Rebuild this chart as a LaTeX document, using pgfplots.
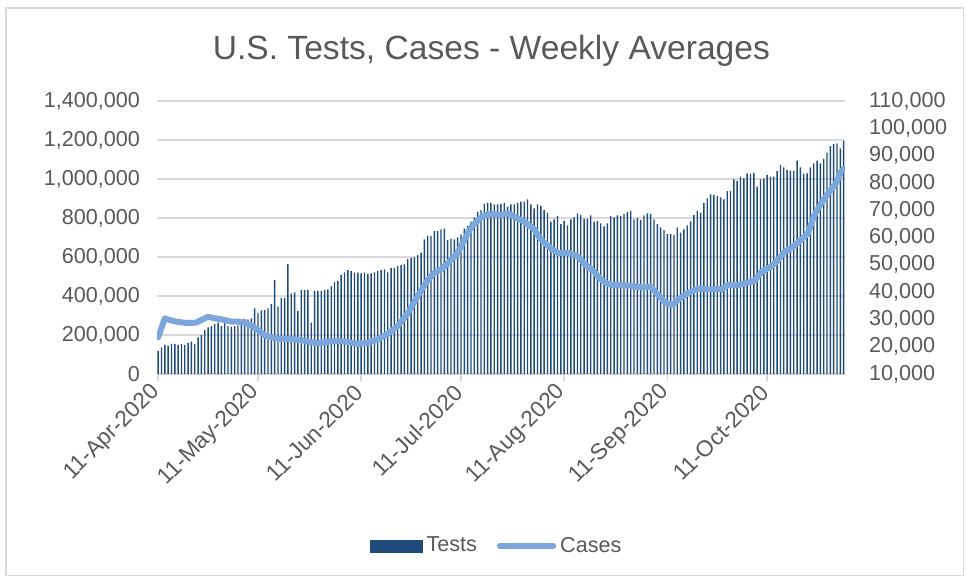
\documentclass[border=0pt]{standalone}
\usepackage{fontspec}
\setmainfont{Liberation Sans}
\usepackage{xcolor}
\usepackage{pgfplots}
\pgfplotsset{compat=1.18}
\definecolor{tblue}{RGB}{30,74,124}
\definecolor{cblue}{RGB}{124,167,220}
\definecolor{gridg}{RGB}{217,217,217}
\definecolor{txt}{RGB}{89,89,89}
\newcommand{\tickfont}{\fontsize{10.8}{12}\selectfont}
\newcommand{\datefont}{\fontsize{11.3}{12}\selectfont}

\begin{document}
\begin{tikzpicture}
\path[use as bounding box] (-78.5pt,-102.5pt) rectangle (405pt,187pt);
\draw[gridg, line width=0.6pt] (-75.5pt,-100.75pt) rectangle (403.25pt,183pt);

% tests, left axis
\begin{axis}[
  scale only axis, width=344pt, height=136.5pt,
  xmin=-0.35, xmax=206.4, ymin=0, ymax=1400000,
  axis x line*=bottom, axis y line*=left,
  x axis line style={draw=gridg, line width=0.8pt},
  y axis line style={draw=none},
  xtick={0,30,61,91,122,153,183},
  xticklabels={11-Apr-2020,11-May-2020,11-Jun-2020,11-Jul-2020,11-Aug-2020,11-Sep-2020,11-Oct-2020},
  xticklabel style={rotate=45, anchor=east, font=\datefont, text=txt, yshift=-2pt},
  xtick style={draw=gridg, line width=0.8pt},
  tick align=outside, major tick length=3.5pt,
  ytick={0,200000,...,1400000},
  ytick style={draw=none},
  yticklabel style={font=\tickfont, text=txt, xshift=-1.5pt},
  scaled y ticks=false,
  /pgf/number format/.cd, fixed, 1000 sep={,}, assume math mode=true, /pgfplots/.cd,
  ymajorgrids, grid style={draw=gridg, line width=0.75pt},
  title={U.S. Tests, Cases - Weekly Averages},
  title style={at={(axis description cs:0.486,1.139)}, anchor=center, yshift=0pt,
    font=\fontsize{16.8}{19}\selectfont, text=txt},
]
\addplot[ybar, bar width=0.42, fill=tblue, draw=none] coordinates {
(0,118000) (1,137000) (2,150000) (3,145000) (4,154000) (5,154000) (6,150000) (7,154000) (8,150000) (9,160000)
(10,166000) (11,155000) (12,188000) (13,200000) (14,226000) (15,239000) (16,246000) (17,256000) (18,263000) (19,246000)
(20,263000) (21,246000) (22,243000) (23,246000) (24,250000) (25,270000) (26,282000) (27,280000) (28,285000) (29,337000)
(30,314000) (31,326000) (32,328000) (33,337000) (34,359000) (35,482000) (36,345000) (37,391000) (38,391000) (39,564000)
(40,414000) (41,419000) (42,323000) (43,431000) (44,431000) (45,431000) (46,263000) (47,426000) (48,426000) (49,426000)
(50,431000) (51,434000) (52,451000) (53,473000) (54,477000) (55,508000) (56,521000) (57,533000) (58,528000) (59,520000)
(60,520000) (61,516000) (62,520000) (63,513000) (64,516000) (65,521000) (66,528000) (67,533000) (68,537000) (69,521000)
(70,544000) (71,544000) (72,554000) (73,559000) (74,562000) (75,590000) (76,595000) (77,598000) (78,610000) (79,622000)
(80,691000) (81,709000) (82,709000) (83,733000) (84,733000) (85,742000) (86,745000) (87,687000) (88,694000) (89,691000)
(90,701000) (91,716000) (92,745000) (93,759000) (94,781000) (95,803000) (96,833000) (97,841000) (98,872000) (99,878000)
(100,878000) (101,870000) (102,870000) (103,872000) (104,878000) (105,858000) (106,870000) (107,870000) (108,878000) (109,884000)
(110,884000) (111,896000) (112,870000) (113,850000) (114,870000) (115,862000) (116,841000) (117,827000) (118,781000) (119,793000)
(120,810000) (121,768000) (122,786000) (123,762000) (124,793000) (125,803000) (126,824000) (127,815000) (128,796000) (129,796000)
(130,814000) (131,781000) (132,785000) (133,773000) (134,757000) (135,773000) (136,810000) (137,803000) (138,814000) (139,810000)
(140,821000) (141,831000) (142,836000) (143,793000) (144,800000) (145,790000) (146,814000) (147,824000) (148,821000) (149,793000)
(150,769000) (151,752000) (152,738000) (153,718000) (154,718000) (155,714000) (156,752000) (157,725000) (158,742000) (159,762000)
(160,783000) (161,815000) (162,838000) (163,827000) (164,878000) (165,901000) (166,921000) (167,918000) (168,912000) (169,906000)
(170,896000) (171,938000) (172,939000) (173,998000) (174,991000) (175,1012000) (176,1003000) (177,1029000) (178,1026000) (179,1032000)
(180,961000) (181,998000) (182,1002000) (183,1021000) (184,1012000) (185,1012000) (186,1041000) (187,1072000) (188,1060000) (189,1046000)
(190,1043000) (191,1043000) (192,1094000) (193,1060000) (194,1026000) (195,1029000) (196,1060000) (197,1080000) (198,1094000) (199,1080000)
(200,1104000) (201,1135000) (202,1169000) (203,1179000) (204,1183000) (205,1157000) (206,1196000)
};
\end{axis}

% cases, right axis
\begin{axis}[
  scale only axis, width=344pt, height=136.5pt,
  xmin=-0.35, xmax=206.4, ymin=10000, ymax=110000,
  axis x line=none, axis y line*=right,
  y axis line style={draw=none},
  ytick={10000,20000,...,110000},
  ytick style={draw=none},
  yticklabel style={font=\tickfont, text=txt, xshift=8.5pt},
  scaled y ticks=false,
  /pgf/number format/.cd, fixed, 1000 sep={,}, assume math mode=true, /pgfplots/.cd,
  legend style={at={(axis description cs:0.495,-0.630)}, anchor=center, draw=none, fill=none,
    font=\tickfont, text=txt, legend columns=2,
    /tikz/every even column/.append style={column sep=8pt}},
]
\addlegendimage{legend image code/.code={\fill[tblue] (-8pt,-3pt) rectangle (18pt,3pt);}}
\addlegendentry{Tests}
\addplot[cblue, line width=3pt, line join=round, line cap=round,
  legend image code/.code={\draw[cblue, line width=2.6pt, line cap=round] (-9pt,0pt) -- (18pt,0pt);}]
coordinates {
(0,23400) (2,30400) (3.4,29800) (5.4,29200) (8.4,28700) (11.4,28800) (13,29800) (15,31000) (17,30400) (19,30000)
(22,29200) (24,29200) (26,28800) (28,27700) (30,26100) (32,24200) (33,23700) (36,22900) (40,22900) (44,22200)
(48,21200) (51,21800) (54,22200) (57,21700) (60,21000) (63,21500) (66,22700) (69,24700) (72,27600) (75,32200)
(78,38600) (81,44400) (83,47100) (85,48300) (87,50500) (90,54400) (92,59100) (94,63700) (97,67400) (99,68400)
(101,68600) (103,68200) (105,68900) (108,67000) (110,65800) (113,63000) (115,59300) (118,56000) (120,54400) (123,54400)
(126,53200) (128,50500) (131,47500) (133,44600) (135,43100) (136.5,42600) (141.5,42400) (145.5,41700) (148,42000) (150.5,38600)
(152.5,36100) (154.5,35300) (156.4,37400) (159.4,39800) (162.4,41300) (165.4,41000) (167.3,41000) (169.3,41100) (171.3,42600) (174.3,42600)
(177.3,43500) (179.3,44200) (181.3,47500) (183.8,49100) (185.8,51100) (188.2,54800) (190.7,56600) (193.2,59100) (195.2,61500) (197.2,68200)
(199.2,72500) (201.7,76800) (203.7,79800) (205.2,84100) (206,85000)
};
\addlegendentry{Cases}
\end{axis}
\end{tikzpicture}
\end{document}
